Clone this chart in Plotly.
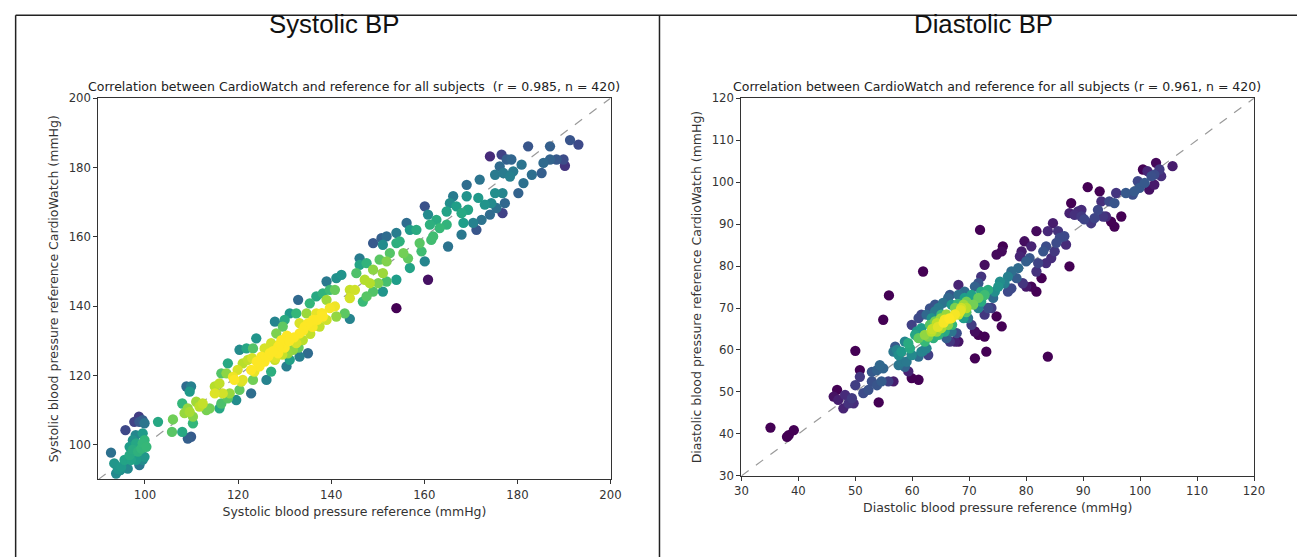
import numpy as np
import plotly.graph_objects as go

# (reference, CardioWatch) pairs, mmHg
systolic_pairs = [
    (92.7, 97.7), (93.8, 91.7), (93.4, 94.6), (94.9, 93.6), (96.3, 93.1), (95.6, 95.6), (96.7, 97.0),
    (95.8, 104.2), (97.4, 98.6), (98.5, 98.0), (98.8, 94.1), (98.8, 106.6), (99.5, 107.1), (99.9, 106.2),
    (97.7, 106.6), (98.7, 108.1), (99.5, 103.3), (99.5, 100.4), (99.9, 101.3), (99.9, 96.5), (99.5, 95.6),
    (98.1, 100.4), (97.4, 101.3), (96.7, 99.4), (98.1, 95.6), (97.0, 95.6), (98.0, 102.8), (99.2, 98.9),
    (100.3, 99.4), (94.7, 92.7), (94.2, 93.0),
    (102.8, 106.6), (106.0, 107.3), (105.8, 103.7), (108.0, 103.7), (109.2, 101.8), (109.9, 102.3),
    (108.0, 111.9), (108.9, 116.8), (109.9, 116.8), (109.6, 115.3), (108.5, 109.1), (109.6, 109.5),
    (110.3, 108.1), (110.3, 106.2), (109.2, 110.5), (111.0, 112.4), (112.4, 111.9), (113.9, 110.5),
    (113.2, 110.0), (111.7, 111.0), (115.0, 114.8), (115.0, 116.8), (116.0, 117.7), (116.4, 120.6),
    (117.5, 120.6), (117.8, 123.5), (116.7, 114.8), (116.4, 111.9), (116.0, 110.5), (117.8, 113.4),
    (118.2, 114.8), (119.6, 112.9), (120.3, 115.8), (119.2, 118.7), (118.9, 119.6), (120.7, 118.2),
    (121.0, 118.7), (119.9, 121.6), (121.0, 123.5), (122.1, 124.5), (120.3, 127.4), (121.8, 127.8),
    (123.2, 127.8), (123.9, 130.7), (122.8, 114.8), (123.2, 118.7), (122.8, 121.6), (123.5, 121.1),
    (124.6, 122.6), (125.7, 124.0), (125.0, 125.4), (125.7, 127.8), (127.1, 129.3), (126.8, 126.4),
    (126.1, 118.7), (127.1, 121.1), (127.9, 124.5), (128.6, 126.4), (128.6, 128.3), (129.3, 130.2),
    (128.2, 132.1), (127.9, 135.5), (129.6, 134.1), (130.0, 136.0), (131.1, 137.9), (130.4, 122.6),
    (131.1, 124.5), (130.7, 126.4), (131.8, 127.4), (133.2, 125.4), (135.0, 126.4), (132.5, 129.3),
    (133.2, 132.1), (133.9, 130.2), (134.3, 134.1), (133.2, 135.1), (132.9, 141.8), (132.5, 137.9),
    (134.7, 137.9), (135.4, 140.8), (136.1, 136.0), (136.8, 137.9), (137.5, 134.1), (138.2, 137.0),
    (139.0, 136.0), (139.7, 139.4), (140.8, 139.9), (141.1, 137.0), (139.0, 141.8), (138.2, 143.7),
    (136.8, 142.8), (139.7, 144.7), (140.8, 144.7), (139.0, 147.1), (141.1, 148.1), (142.2, 149.0),
    (142.9, 137.9), (144.0, 136.3), (144.0, 142.3), (144.0, 144.7), (145.1, 144.7), (145.4, 149.5),
    (146.8, 141.3), (147.6, 142.8), (149.0, 144.2), (148.3, 146.6), (147.2, 147.6), (146.1, 151.9),
    (146.1, 153.8), (147.6, 152.4), (149.0, 150.5), (150.1, 146.6), (151.1, 144.2), (151.9, 147.1),
    (151.1, 149.5), (150.4, 153.4), (151.9, 152.9), (152.6, 155.3), (151.1, 157.7), (149.0, 158.2),
    (150.8, 159.6), (151.9, 160.1), (154.0, 161.1), (154.0, 158.2), (154.7, 158.7), (155.5, 155.3),
    (156.5, 153.8), (156.9, 151.0), (154.0, 139.4), (154.0, 147.6), (156.2, 164.0), (156.9, 162.0),
    (158.3, 162.0), (159.0, 158.2), (159.4, 155.8), (160.1, 152.9), (160.8, 147.6), (160.1, 168.8),
    (160.8, 166.4), (161.2, 163.5), (161.5, 159.1), (161.9, 160.1), (162.6, 164.9), (163.3, 162.5),
    (164.8, 167.3), (164.8, 163.5), (165.1, 157.2), (165.5, 169.7), (166.2, 171.7), (166.9, 168.8),
    (168.0, 166.8), (168.4, 164.0), (168.0, 160.6), (169.1, 171.7), (169.4, 167.8), (170.5, 164.0),
    (171.2, 162.0), (171.6, 171.2), (172.3, 164.9), (173.0, 169.3), (174.1, 166.4), (174.4, 169.7),
    (175.5, 168.3), (175.2, 172.6), (176.8, 172.6), (177.3, 169.7), (176.8, 166.8), (169.1, 175.0),
    (171.9, 176.5), (175.2, 177.9), (176.2, 180.3), (177.0, 178.4), (178.4, 177.4), (179.1, 178.9),
    (178.7, 182.3), (177.7, 182.3), (176.6, 183.7), (174.1, 183.2), (180.9, 180.8), (180.2, 172.6),
    (181.3, 175.5), (183.1, 177.9), (185.2, 178.4), (185.6, 181.3), (187.0, 182.3), (188.4, 182.3),
    (189.9, 182.3), (190.2, 180.5), (182.3, 186.1), (187.0, 186.1), (191.3, 187.9), (193.1, 186.6),
    (126.5, 125.5), (127.5, 127.0), (129.0, 129.0), (130.0, 128.0), (131.0, 130.0), (132.0, 131.0),
    (134.0, 133.0), (135.0, 135.0), (136.0, 134.0), (137.0, 136.0), (138.0, 138.0), (124.0, 124.0),
    (123.0, 125.0), (128.0, 125.0), (129.5, 126.0), (133.0, 128.0), (135.5, 132.0), (130.5, 131.5),
]

diastolic_pairs = [
    (35.1, 41.5), (38.0, 39.3), (38.3, 39.7), (39.2, 40.9), (46.2, 48.9), (47.0, 48.1), (46.8, 50.5),
    (48.2, 49.3), (47.9, 46.1), (48.8, 47.3), (49.7, 47.3), (49.4, 48.5), (50.0, 51.6), (50.8, 55.2),
    (50.0, 59.8), (50.8, 53.6), (51.4, 49.7), (52.3, 50.5), (52.9, 52.5), (54.1, 47.5), (53.8, 51.6),
    (54.6, 52.5), (54.9, 55.6), (53.8, 55.2), (52.9, 54.8), (54.3, 56.4), (55.8, 52.5), (56.7, 52.5),
    (54.9, 67.2), (55.9, 73.0), (57.0, 60.8), (57.6, 58.8), (57.3, 60.0), (58.1, 59.6), (58.7, 62.0),
    (59.3, 61.6), (59.0, 57.2), (58.7, 56.0), (59.3, 54.9), (59.9, 53.3), (61.1, 52.9), (59.9, 66.0),
    (60.8, 64.4), (61.1, 62.8), (60.5, 63.6), (61.6, 65.2), (61.9, 59.8), (62.8, 58.8), (62.5, 60.4),
    (62.2, 62.0), (61.9, 78.7), (63.4, 67.6), (63.1, 66.0), (64.3, 66.4), (64.3, 64.4), (64.6, 70.0),
    (64.0, 69.2), (65.1, 68.4), (65.7, 67.2), (66.3, 66.0), (66.0, 62.8), (66.6, 62.0), (67.5, 62.0),
    (68.1, 62.0), (67.8, 64.0), (66.9, 70.8), (68.1, 73.1), (66.6, 73.1), (67.5, 70.0), (68.4, 69.2),
    (69.0, 70.8), (69.5, 70.0), (69.0, 67.6), (69.8, 67.6), (70.4, 66.0), (71.0, 64.4), (71.6, 63.6),
    (72.7, 63.2), (71.0, 58.0), (73.0, 59.6), (68.1, 75.5), (69.2, 72.4), (70.4, 73.1), (71.0, 75.1),
    (71.6, 72.4), (72.1, 73.9), (71.9, 88.6), (71.6, 75.9), (72.1, 77.5), (72.7, 80.3), (73.3, 70.0),
    (73.9, 70.0), (74.8, 68.0), (75.7, 65.6), (72.7, 68.4), (74.2, 72.4), (74.5, 73.9), (75.1, 75.1),
    (75.4, 76.3), (74.8, 82.7), (75.9, 84.7), (75.7, 83.5), (76.2, 75.9), (76.8, 73.9), (76.8, 77.5),
    (77.4, 78.7), (77.4, 74.7), (78.3, 77.1), (78.6, 79.5), (78.9, 82.3), (79.2, 83.5), (79.7, 85.9),
    (80.0, 81.1), (80.6, 81.9), (79.4, 75.9), (80.0, 75.1), (80.9, 75.1), (81.8, 73.9), (82.7, 77.1),
    (81.8, 78.7), (82.1, 80.7), (80.9, 84.7), (81.8, 88.3), (83.0, 83.5), (83.5, 84.7), (83.5, 80.7),
    (84.4, 81.9), (83.8, 88.3), (84.7, 90.2), (85.0, 83.5), (85.3, 85.5), (85.9, 86.7), (85.6, 88.3),
    (86.7, 87.1), (87.0, 85.1), (87.6, 79.9), (83.8, 58.4), (87.9, 95.0), (87.6, 92.6), (88.5, 92.2),
    (89.1, 93.0), (89.7, 91.8), (89.7, 93.4), (90.2, 91.1), (90.8, 98.8), (91.4, 90.2), (92.0, 91.4),
    (92.6, 93.4), (92.9, 97.8), (93.2, 95.4), (93.5, 91.8), (94.0, 91.8), (94.9, 90.6), (95.5, 89.4),
    (95.8, 97.4), (94.6, 95.4), (95.5, 95.0), (96.7, 91.8), (97.5, 97.4), (98.7, 97.0), (99.0, 97.8),
    (99.6, 100.2), (99.9, 98.6), (100.8, 99.8), (100.5, 103.0), (101.3, 102.6), (102.0, 101.4),
    (101.6, 98.2), (102.5, 99.4), (102.8, 104.6), (103.4, 103.0), (103.7, 101.4), (105.7, 103.8),
    (102.5, 101.8),
    (66.9, 67.6), (68.1, 68.4), (68.6, 70.0), (65.7, 64.4), (65.1, 65.2), (64.6, 63.6), (66.9, 64.4),
    (69.2, 73.9), (69.5, 71.5), (70.7, 70.8), (71.6, 70.0), (72.1, 71.5), (72.7, 73.1), (73.3, 74.3),
    (63.4, 64.4), (62.8, 63.2), (62.2, 63.6), (63.7, 62.8), (61.1, 67.6), (61.6, 68.4), (62.5, 68.4),
    (63.1, 69.9), (64.0, 70.8), (66.3, 72.4), (65.4, 71.2), (59.9, 58.8), (59.6, 60.4), (58.1, 57.2),
    (57.6, 56.4), (56.7, 59.6), (61.1, 58.4), (61.6, 59.6),
    (64.5, 65.5), (65.5, 66.5), (66.5, 67.5), (67.5, 68.5), (68.5, 69.5), (63.5, 65.0), (66.0, 68.5),
    (67.0, 66.0), (65.0, 67.5), (68.0, 71.0), (69.5, 69.0), (64.0, 66.8),
]

titles = ['Systolic BP', 'Diastolic BP']
subtitles = ['Correlation between CardioWatch and reference for all subjects  (r = 0.985, n = 420)',
             'Correlation between CardioWatch and reference for all subjects (r = 0.961, n = 420)']
x_titles = ['Systolic blood pressure reference (mmHg)', 'Diastolic blood pressure reference (mmHg)']
y_titles = ['Systolic blood pressure reference CardioWatch (mmHg)',
            'Diastolic blood pressure reference CardioWatch (mmHg)']
axis_ranges = [(90, 200), (30, 120)]
x_ticks = [[100, 120, 140, 160, 180, 200], [30, 40, 50, 60, 70, 80, 90, 100, 110, 120]]
y_ticks = [[100, 120, 140, 160, 180, 200], [30, 40, 50, 60, 70, 80, 90, 100, 110, 120]]
bw_factor = [2.0, 0.7]
# part of the density range that the colour scale spans (low, high)
color_span = [(0.0, 0.96), (0.12, 1.0)]


def kde_density(x, y, factor=1.0):
    # gaussian kde, scott bandwidth (same idea as scipy.stats.gaussian_kde)
    pts = np.vstack([x, y])
    n = pts.shape[1]
    cov = np.cov(pts) * (n ** (-1 / 6) * factor) ** 2
    inv = np.linalg.inv(cov)
    d0 = x[:, None] - x[None, :]
    d1 = y[:, None] - y[None, :]
    q = inv[0, 0] * d0 ** 2 + 2 * inv[0, 1] * d0 * d1 + inv[1, 1] * d1 ** 2
    return np.exp(-0.5 * q).sum(axis=1)


# the photo of the page comes out slightly shrunk and shifted, positions below are
# wanted photo pixels and get converted to figure fractions here
W, H = 1305, 557
SX, SY, OX, OY = 0.987, 0.973, 14.0, 14.0


def px(X):
    return min(max((X - OX) / SX / W, 0.0005), 1)


def py(Y):
    return min(max(1 - (Y - OY) / SY / H, 0), 0.9995)


fig = go.Figure()

domains_x = [(px(97.5), px(610)), (px(741), px(1254))]
domains_y = [(py(477.5), py(97)), (py(474), py(97))]

for i, pairs in enumerate([systolic_pairs, diastolic_pairs]):
    x = np.array([p[0] for p in pairs])
    y = np.array([p[1] for p in pairs])
    z = kde_density(x, y, bw_factor[i])
    order = z.argsort()
    x, y, z = x[order], y[order], z[order]
    zlo, zhi = z.min(), z.max()
    cmin = zlo + color_span[i][0] * (zhi - zlo)
    cmax = zlo + color_span[i][1] * (zhi - zlo)
    xa = 'x' if i == 0 else 'x2'
    ya = 'y' if i == 0 else 'y2'
    lo, hi = axis_ranges[i]
    fig.add_trace(go.Scatter(x=[lo, hi], y=[lo, hi], mode='lines', xaxis=xa, yaxis=ya,
                             line=dict(color='#9a9a9a', width=1.2, dash='dash'),
                             showlegend=False, hoverinfo='skip'))
    fig.add_trace(go.Scatter(x=x, y=y, mode='markers', xaxis=xa, yaxis=ya,
                             marker=dict(size=10.3, color=z, colorscale='Viridis', cmin=cmin, cmax=cmax,
                                         line=dict(width=0)),
                             showlegend=False))

axis_common = dict(showgrid=False, zeroline=False, showline=True, linecolor='#333333', linewidth=1.2,
                   mirror=True, ticks='outside', ticklen=4, tickcolor='#333333',
                   tickfont=dict(family='DejaVu Sans', size=11.7, color='#333333'))

for i in range(2):
    sx = '' if i == 0 else '2'
    fig.update_layout({
        'xaxis' + sx: dict(axis_common, domain=domains_x[i], range=list(axis_ranges[i]),
                           tickvals=x_ticks[i], anchor='y' + sx,
                           title=dict(text=x_titles[i], standoff=6,
                                      font=dict(family='DejaVu Sans', size=12.5, color='#333333'))),
        'yaxis' + sx: dict(axis_common, domain=domains_y[i], range=list(axis_ranges[i]),
                           tickvals=y_ticks[i], anchor='x' + sx,
                           title=dict(text=y_titles[i], standoff=7,
                                      font=dict(family='DejaVu Sans', size=12.5, color='#333333'))),
    })

title_x = [333, 983]
sub_x = [353, 997]
for i in range(2):
    fig.add_annotation(text=titles[i], x=px(title_x[i]), y=py(23), xref='paper', yref='paper',
                       xanchor='center', yanchor='middle', showarrow=False,
                       font=dict(family='Liberation Sans', size=25.8, color='#111111'))
    fig.add_annotation(text=subtitles[i], x=px(sub_x[i]), y=py(85), xref='paper', yref='paper',
                       xanchor='center', yanchor='middle', showarrow=False,
                       font=dict(family='DejaVu Sans', size=12.5, color='#222222'))

# table borders around the two panels
border = dict(color='#222222', width=1.5)
fig.add_shape(type='line', xref='paper', yref='paper', x0=px(8), x1=1, y0=py(7.5), y1=py(7.5), line=border)
fig.add_shape(type='line', xref='paper', yref='paper', x0=px(8.5), x1=px(8.5), y0=0, y1=py(7), line=border)
fig.add_shape(type='line', xref='paper', yref='paper', x0=px(659), x1=px(659), y0=0, y1=py(7), line=border)

fig.update_layout(width=W, height=H, margin=dict(l=0, r=0, t=0, b=0),
                  paper_bgcolor='white', plot_bgcolor='white', showlegend=False)

fig.write_html("out.html")
